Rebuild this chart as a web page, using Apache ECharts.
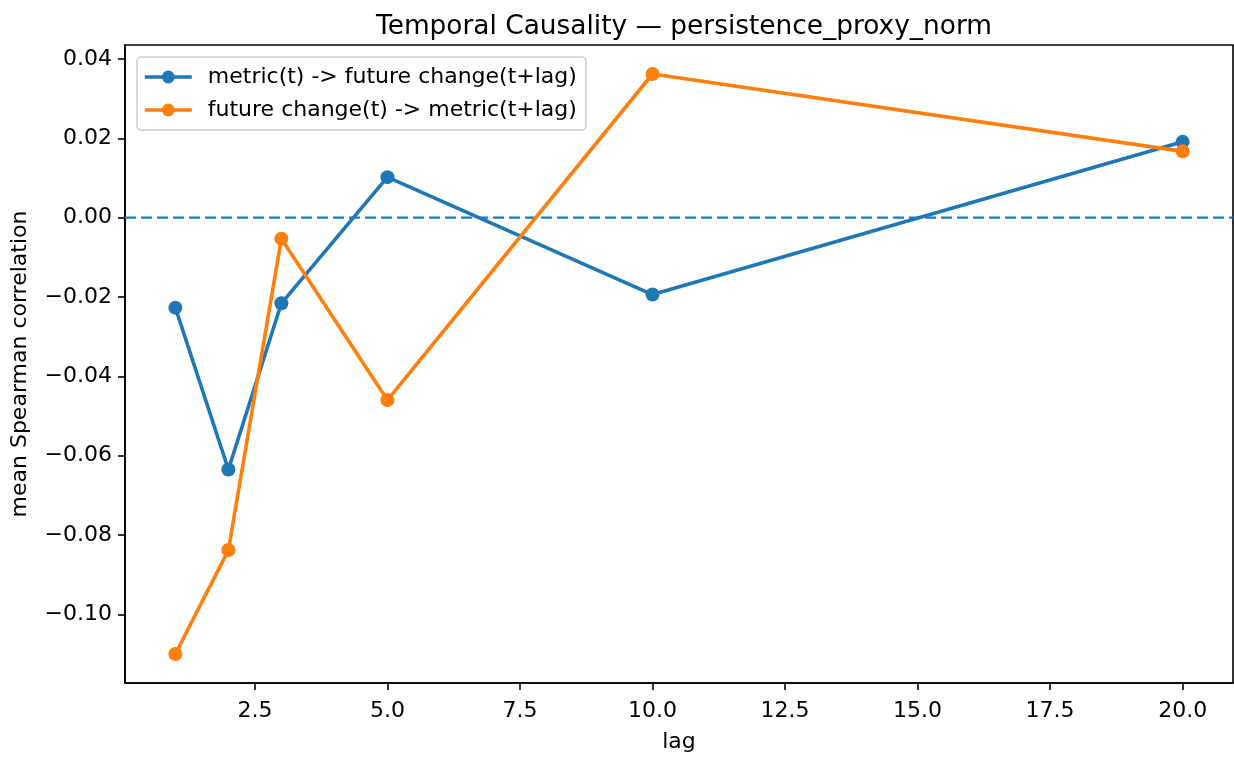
<!DOCTYPE html>
<html>
<head>
<meta charset="utf-8">
<script src="https://cdn.jsdelivr.net/npm/echarts@6/dist/echarts.min.js"></script>
<style>
html,body{margin:0;padding:0;background:#fff;}
#chart{width:1234px;height:758px;}
</style>
</head>
<body>
<div id="chart"></div>
<script>
// ---- data ----
const lags = [1, 2, 3, 5, 10, 20];
const metricToFuture = [-0.0227, -0.0635, -0.0216, 0.0102, -0.0194, 0.0191];
const futureToMetric = [-0.1100, -0.0838, -0.0053, -0.0460, 0.0362, 0.0167];
const seriesNames = ['metric(t) -> future change(t+lag)', 'future change(t) -> metric(t+lag)'];
const xTicks = [2.5, 5.0, 7.5, 10.0, 12.5, 15.0, 17.5, 20.0];
const yTicks = [-0.10, -0.08, -0.06, -0.04, -0.02, 0.00, 0.02, 0.04];
const zeroLine = [0];
const titleText = 'Temporal Causality — persistence_proxy_norm';
const xName = 'lag';
const yName = 'mean Spearman correlation';

// matplotlib-style 5% margins
function lims(vals) {
  const lo = Math.min(...vals), hi = Math.max(...vals), m = (hi - lo) * 0.05;
  return [lo - m, hi + m];
}
const [xMin, xMax] = lims(lags);
const [yMin, yMax] = lims(metricToFuture.concat(futureToMetric));

const FONT = 'DejaVu Sans';
const FS = 22;
const C0 = '#1f77b4', C1 = '#ff7f0e';
const fmtY = v => (v < 0 ? '\u2212' : '') + Math.abs(v).toFixed(2);
const fmtX = v => v.toFixed(1);

const chart = echarts.init(document.getElementById('chart'), null, {renderer: 'canvas'});
const mk = (ys) => lags.map((x, i) => [x, ys[i]]);

chart.setOption({
  animation: false,
  backgroundColor: '#ffffff',
  title: {
    text: titleText, left: 679, top: 9, textAlign: 'center',
    textStyle: {fontFamily: FONT, fontSize: 26.4, fontWeight: 'normal', color: '#000'}
  },
  grid: {left: 125, right: 1, top: 45, bottom: 71, show: true, borderColor: '#000', borderWidth: 1.6, backgroundColor: 'transparent'},
  legend: {
    orient: 'vertical', left: 137, top: 57,
    padding: [9, 9, 9, 6],
    itemGap: 11, itemWidth: 47, itemHeight: 16,
    backgroundColor: 'rgba(255,255,255,0.8)',
    borderColor: '#cccccc', borderWidth: 1.5, borderRadius: 4,
    lineStyle: {width: 3.6},
    textStyle: {fontFamily: FONT, fontSize: FS, color: '#000', padding: [0, 0, 0, 11], lineHeight: 22},
    data: seriesNames
  },
  xAxis: {
    type: 'value', min: xMin, max: xMax,
    name: xName, nameLocation: 'middle', nameGap: 48,
    nameTextStyle: {fontFamily: FONT, fontSize: FS, color: '#000'},
    axisLine: {show: true, onZero: false, lineStyle: {color: '#000', width: 1.6}},
    axisTick: {show: true, length: 7, lineStyle: {color: '#000', width: 1.6}, customValues: xTicks},
    axisLabel: {fontFamily: FONT, fontSize: FS, color: '#000', margin: 17, customValues: xTicks, formatter: fmtX},
    splitLine: {show: false}
  },
  yAxis: {
    type: 'value', min: yMin, max: yMax,
    name: yName, nameLocation: 'middle', nameGap: 94, nameRotate: 90,
    nameTextStyle: {fontFamily: FONT, fontSize: FS, color: '#000'},
    axisLine: {show: true, onZero: false, lineStyle: {color: '#000', width: 1.6}},
    axisTick: {show: true, length: 7, lineStyle: {color: '#000', width: 1.6}, customValues: yTicks},
    axisLabel: {fontFamily: FONT, fontSize: FS, color: '#000', margin: 13, customValues: yTicks, formatter: fmtY},
    splitLine: {show: false}
  },
  series: [
    {
      name: 'zero', type: 'line',
      data: zeroLine.length ? [[xMin, zeroLine[0]], [xMax, zeroLine[0]]] : [],
      symbol: 'none', silent: true, z: 2,
      lineStyle: {type: [11, 5], width: 2.4, color: C0, cap: 'butt'}
    },
    {
      name: seriesNames[0], type: 'line', data: mk(metricToFuture),
      color: C0, symbol: 'circle', symbolSize: 14, showAllSymbol: true,
      lineStyle: {width: 3.6, color: C0}, itemStyle: {color: C0, borderWidth: 0},
      z: 3
    },
    {
      name: seriesNames[1], type: 'line', data: mk(futureToMetric),
      color: C1, symbol: 'circle', symbolSize: 14, showAllSymbol: true,
      lineStyle: {width: 3.6, color: C1}, itemStyle: {color: C1, borderWidth: 0},
      z: 4
    }
  ]
});
</script>
</body>
</html>
